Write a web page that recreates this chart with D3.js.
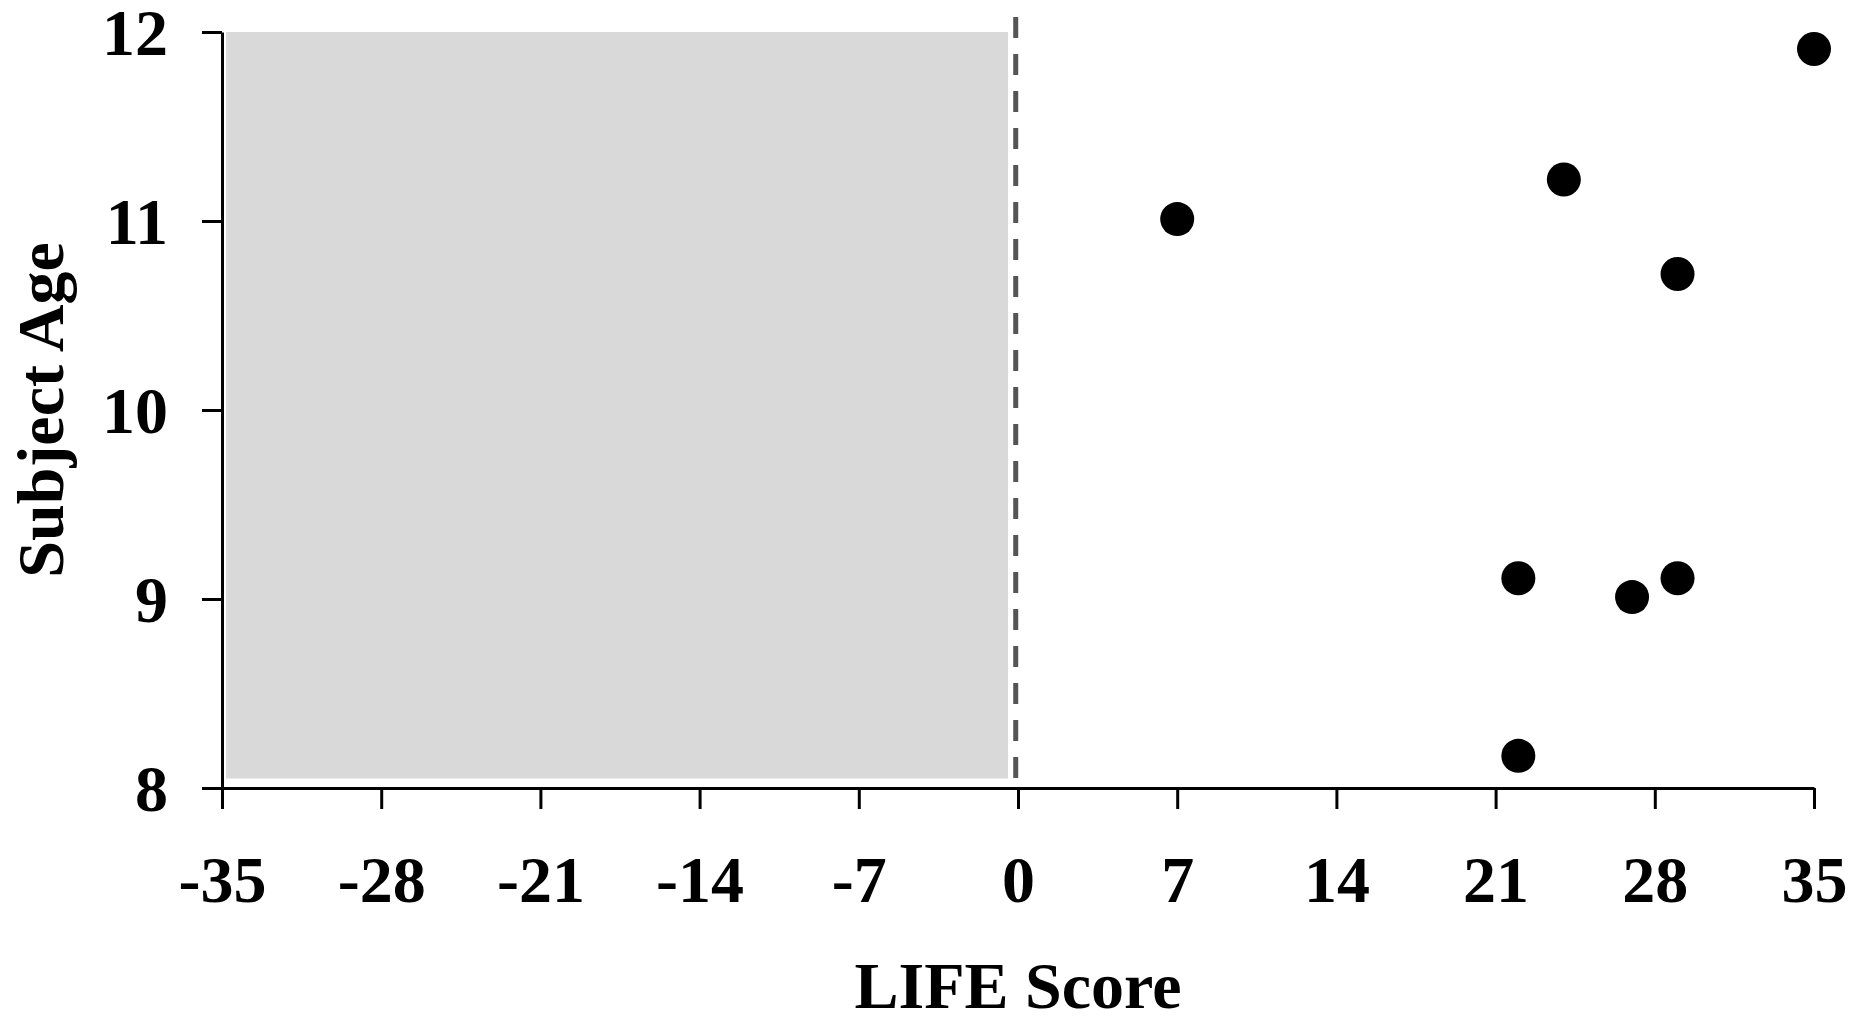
<!DOCTYPE html>
<html>
<head>
<meta charset="utf-8">
<script src="https://cdn.jsdelivr.net/npm/d3@7"></script>
<style>
  html, body { margin: 0; padding: 0; background: #fff; }
  svg { display: block; }
  text { font-family: "Liberation Serif", "Times New Roman", serif; font-weight: bold; }
</style>
</head>
<body>
<svg id="chart" width="1860" height="1018"></svg>
<script>
// Data
const lifeScore = [7, 24, 29, 22, 27, 29, 22, 35];
const subjectAge = [11.01, 11.22, 10.72, 9.11, 9.01, 9.11, 8.17, 11.91];
const xTicks = [-35, -28, -21, -14, -7, 0, 7, 14, 21, 28, 35];
const yTicks = [8, 9, 10, 11, 12];
const shadeX = [-34.82, -0.44];
const shadeY = [8.05, 12];

const svg = d3.select("#chart");
const x = d3.scaleLinear().domain([-35, 35]).range([222, 1814]);
const y = d3.scaleLinear().domain([8, 12]).range([788, 32]);

// shaded region
svg.append("rect")
  .attr("x", x(shadeX[0]))
  .attr("y", y(shadeY[1]))
  .attr("width", x(shadeX[1]) - x(shadeX[0]))
  .attr("height", y(shadeY[0]) - y(shadeY[1]))
  .attr("fill", "#d9d9d9");

// dashed zero line
svg.append("line")
  .attr("x1", x(-0.1)).attr("x2", x(-0.1))
  .attr("y1", y(12.08)).attr("y2", y(8))
  .attr("stroke", "#555")
  .attr("stroke-width", 5)
  .attr("stroke-dasharray", "21,16");

// axes
const xAxis = d3.axisBottom(x).tickValues(xTicks).tickSize(21).tickSizeOuter(0).tickFormat(d => d);
const gx = svg.append("g").attr("transform", `translate(0,${y(8)})`).call(xAxis);
gx.select(".domain").attr("stroke", "#000").attr("stroke-width", 3);
gx.selectAll(".tick line").attr("stroke", "#000").attr("stroke-width", 3);
gx.selectAll(".tick text")
  .attr("y", 114).attr("dy", 0)
  .attr("fill", "#000")
  .style("font-size", "66px")
  .style("font-family", "'Liberation Serif', serif")
  .style("font-weight", "bold");

const yAxis = d3.axisLeft(y).tickValues(yTicks).tickSize(20).tickSizeOuter(0).tickPadding(34).tickFormat(d => d);
const gy = svg.append("g").attr("transform", `translate(${x(-35)},0)`).call(yAxis);
gy.select(".domain").attr("stroke", "#000").attr("stroke-width", 3);
gy.selectAll(".tick line").attr("stroke", "#000").attr("stroke-width", 3);
gy.selectAll(".tick text")
  .attr("dy", "0.34em")
  .attr("fill", "#000")
  .style("font-size", "66px")
  .style("font-family", "'Liberation Serif', serif")
  .style("font-weight", "bold");

// points
svg.append("g").selectAll("circle")
  .data(lifeScore.map((v, i) => ({ x: v, y: subjectAge[i] })))
  .join("circle")
  .attr("cx", d => x(d.x))
  .attr("cy", d => y(d.y))
  .attr("r", 17)
  .attr("fill", "#000");

// axis titles
svg.append("text")
  .attr("x", x(0)).attr("y", 1008)
  .attr("text-anchor", "middle")
  .style("font-size", "66px")
  .text("LIFE Score");

svg.append("text")
  .attr("transform", `translate(63,${(y(8) + y(12)) / 2}) rotate(-90)`)
  .attr("text-anchor", "middle")
  .style("font-size", "66px")
  .text("Subject Age");
</script>
</body>
</html>
